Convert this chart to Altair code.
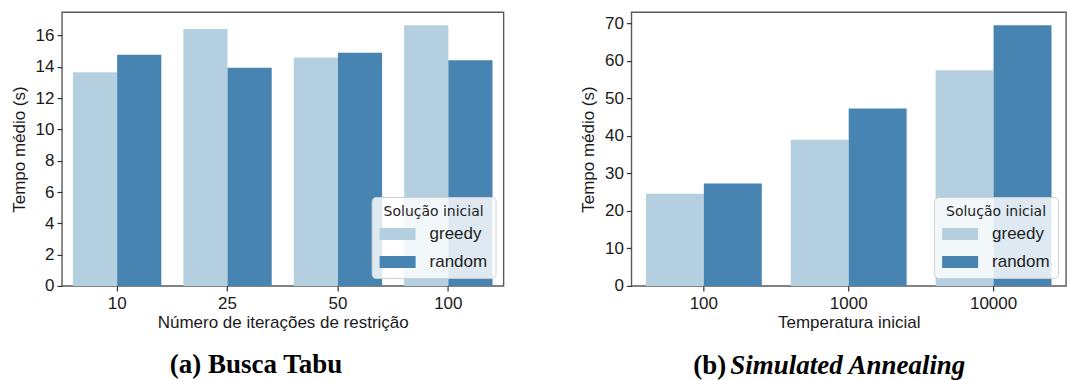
import altair as alt
import pandas as pd

# Busca Tabu: average time per number of restriction iterations
tabu_iters = ["10", "25", "50", "100"]
tabu_greedy = [13.66, 16.43, 14.60, 16.67]
tabu_random = [14.77, 13.94, 14.90, 14.43]

# Simulated Annealing: average time per initial temperature
sa_temps = ["100", "1000", "10000"]
sa_greedy = [24.6, 39.0, 57.5]
sa_random = [27.3, 47.3, 69.5]

series = ["greedy", "random"]
colors = ["#b4cfe0", "#4884b1"]

tabu_df = pd.DataFrame({
    "cat": tabu_iters * 2,
    "sol": ["greedy"] * len(tabu_iters) + ["random"] * len(tabu_iters),
    "t": tabu_greedy + tabu_random,
})
sa_df = pd.DataFrame({
    "cat": sa_temps * 2,
    "sol": ["greedy"] * len(sa_temps) + ["random"] * len(sa_temps),
    "t": sa_greedy + sa_random,
})

SANS = "Liberation Sans"
SERIF = "Liberation Serif"
H = 274


def legend():
    return alt.Legend(
        title="Solução inicial",
        orient="bottom-right",
        offset=8,
        fillColor="rgba(255,255,255,0.82)",
        strokeColor="#d0d0d0",
        cornerRadius=4,
        padding=8,
        titleFont="DejaVu Sans",
        titleFontSize=14,
        titleFontWeight="normal",
        titleColor="#222",
        titleAnchor="middle",
        titlePadding=3,
        labelFont=SANS,
        labelFontSize=17,
        labelColor="#222",
        labelOffset=26,
        symbolType="M-1,-0.5H2V0.5H-1Z",
        symbolSize=576,
        symbolStrokeWidth=0,
        symbolOpacity=1,
        rowPadding=8,
    )


def panel(df, cats, ymax, yvals, xtitle, width):
    bars = alt.Chart(df).mark_bar().encode(
        x=alt.X(
            "cat:N",
            sort=cats,
            title=xtitle,
            scale=alt.Scale(paddingInner=0.2, paddingOuter=0.1),
            axis=alt.Axis(labelAngle=0),
        ),
        xOffset=alt.XOffset("sol:N", sort=series,
                            scale=alt.Scale(paddingInner=0, paddingOuter=0)),
        y=alt.Y(
            "t:Q",
            title="Tempo médio (s)",
            scale=alt.Scale(domain=[0, ymax], nice=False, zero=True),
            axis=alt.Axis(values=yvals, format="d"),
        ),
        color=alt.Color("sol:N", sort=series,
                        scale=alt.Scale(domain=series, range=colors),
                        legend=legend()),
    )
    return bars.properties(width=width, height=H)


left = panel(tabu_df, tabu_iters, 17.5, list(range(0, 17, 2)),
             "Número de iterações de restrição", 442)
right = panel(sa_df, sa_temps, 73.0, list(range(0, 71, 10)),
              "Temperatura inicial", 435)

# Sub-figure captions below each panel
cap_a = alt.Chart(pd.DataFrame({"c": ["(a)  Busca Tabu"]})).mark_text(
    font=SERIF, fontSize=27, fontWeight="bold", align="left",
    baseline="alphabetic", color="#000",
).encode(text="c:N", x=alt.value(108), y=alt.value(361))

cap_b1 = alt.Chart(pd.DataFrame({"c": ["(b)"]})).mark_text(
    font=SERIF, fontSize=27, fontWeight="bold", align="left",
    baseline="alphabetic", color="#000",
).encode(text="c:N", x=alt.value(62), y=alt.value(362))

cap_b2 = alt.Chart(pd.DataFrame({"c": ["Simulated Annealing"]})).mark_text(
    font=SERIF, fontSize=27, fontWeight="bold", fontStyle="italic",
    align="left", baseline="alphabetic", color="#000",
).encode(text="c:N", x=alt.value(99), y=alt.value(362))

chart = alt.hconcat(
    alt.layer(left, cap_a),
    alt.layer(right, cap_b1, cap_b2),
    spacing=128,
    bounds="flush",
).resolve_scale(
    x="independent", y="independent", color="independent", xOffset="independent"
).resolve_legend(color="independent").properties(
    padding={"left": 9, "top": 11, "right": 0, "bottom": 0},
).configure_view(
    stroke="#5a5a5a", strokeWidth=1.4,
).configure_axis(
    domain=False,
    grid=False,
    ticks=True,
    tickSize=5,
    tickWidth=1.2,
    tickColor="#333",
    labelFont=SANS,
    labelFontSize=17,
    labelColor="#1a1a1a",
    labelPadding=3,
    titleFont=SANS,
    titleFontSize=17,
    titleFontWeight="normal",
    titleColor="#1a1a1a",
).configure_axisY(titlePadding=7).configure_axisX(labelPadding=5, titlePadding=3)

chart.save("out.html", embed_options={"renderer": "svg", "actions": False})
